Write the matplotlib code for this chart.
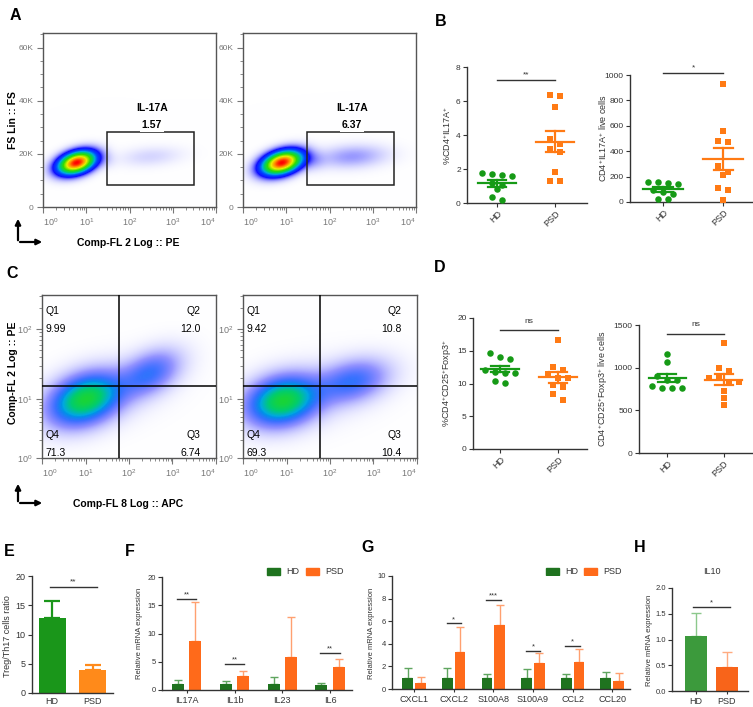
import numpy as np
import matplotlib
matplotlib.use("Agg")
import matplotlib.pyplot as plt
from matplotlib.colors import LinearSegmentedColormap
from matplotlib.patches import Rectangle

plt.rcParams["font.family"] = ["Liberation Sans", "DejaVu Sans"]
plt.rcParams["mathtext.fontset"] = "custom"
plt.rcParams["mathtext.rm"] = "Liberation Sans"
plt.rcParams["mathtext.it"] = "Liberation Sans:italic"
plt.rcParams["mathtext.bf"] = "Liberation Sans:bold"

W, H = 753, 707

### DATA
# A - flow populations, (x, y, sx, sy, corr, density) in plot fractions
a_hd_pops = [(0.195, 0.255, 0.062, 0.038, 0.35, 12.0),
             (0.36, 0.27, 0.04, 0.03, 0.0, 0.10),
             (0.62, 0.29, 0.11, 0.035, 0.2, 0.14)]
a_psd_pops = [(0.225, 0.255, 0.067, 0.040, 0.35, 12.0),
              (0.40, 0.27, 0.05, 0.035, 0.0, 0.3),
              (0.63, 0.29, 0.12, 0.04, 0.15, 0.40)]
a_gate_pct = ["1.57", "6.37"]

# C - quadrant flow populations
c_hd_pops = [(0.25, 0.36, 0.13, 0.10, 0.3, 1.7),
             (0.62, 0.52, 0.11, 0.09, 0.4, 0.7),
             (0.40, 0.40, 0.21, 0.13, 0.4, 0.08)]
c_psd_pops = [(0.23, 0.35, 0.13, 0.095, 0.2, 1.7),
              (0.63, 0.47, 0.13, 0.085, 0.3, 0.7),
              (0.42, 0.40, 0.22, 0.13, 0.3, 0.08)]
c_quads_hd = ["9.99", "12.0", "6.74", "71.3"]   # Q1, Q2, Q3, Q4
c_quads_psd = ["9.42", "10.8", "10.4", "69.3"]

# B
b_pct_hd = [1.56, 1.76, 1.72, 1.66, 1.2, 1.08, 0.8, 0.35, 0.2]
b_pct_psd = [6.35, 6.3, 5.65, 3.75, 3.45, 3.15, 3.0, 1.85, 1.3, 1.3]
b_cnt_hd = [150, 158, 158, 145, 97, 66, 76, 26, 26]
b_cnt_psd = [926, 561, 482, 471, 280, 216, 240, 110, 97, 13]

# D
d_pct_hd = [14.6, 14.0, 13.8, 11.6, 11.6, 11.8, 12.0, 10.4, 10.1]
d_pct_psd = [16.7, 12.5, 12.1, 11.4, 10.8, 10.8, 9.7, 9.5, 8.4, 7.5]
d_cnt_hd = [1160, 1065, 900, 850, 850, 757, 790, 757, 765]
d_cnt_psd = [1294, 1000, 960, 874, 874, 835, 835, 725, 647, 557]

# E
groups = ["HD", "PSD"]
e_ratio = [12.9, 4.0]
e_err = [2.9, 0.75]

# F
f_genes = ["IL17A", "IL1b", "IL23", "IL6"]
f_hd = [1.0, 1.0, 1.0, 0.9]
f_hd_err = [0.8, 0.65, 1.35, 0.3]
f_psd = [8.7, 2.5, 5.9, 4.1]
f_psd_err = [6.9, 0.9, 7.1, 1.35]
f_sig = [(0, "**", 16.1), (1, "**", 4.55), (3, "**", 6.6)]

# G
g_genes = ["CXCL1", "CXCL2", "S100A8", "S100A9", "CCL2", "CCL20"]
g_hd = [1.0, 1.0, 1.0, 1.0, 1.0, 1.0]
g_hd_err = [0.9, 0.83, 0.3, 0.74, 0.3, 0.5]
g_psd = [0.5, 3.25, 5.7, 2.3, 2.35, 0.7]
g_psd_err = [0.53, 2.25, 1.75, 0.9, 1.2, 0.7]
g_sig = [(1, "*", 5.8), (2, "***", 7.85), (3, "*", 3.35), (4, "*", 3.82)]

# H
h_il10 = [1.07, 0.46]
h_err = [0.45, 0.30]

GREEN = "#169a16"
ORANGE = "#ff7a14"
GRAY = "#333333"

flow_cmap = LinearSegmentedColormap.from_list("flow", [
    (0.0, "#3c3cff"), (0.08, "#1010ff"), (0.16, "#0048ff"), (0.24, "#00a8e0"),
    (0.32, "#00cc70"), (0.46, "#30dc00"), (0.66, "#e8f000"), (0.82, "#ff9000"),
    (1.0, "#ff0000")])

fig = plt.figure(figsize=(W / 100, H / 100), dpi=100)
ov = fig.add_axes([0, 0, 1, 1])
ov.set_xlim(0, W)
ov.set_ylim(H, 0)
ov.axis("off")


def ax_px(x0, y0, x1, y1):
    return fig.add_axes([x0 / W, 1 - y1 / H, (x1 - x0) / W, (y1 - y0) / H])


def txt(x, y, s, **kw):
    kw.setdefault("ha", "center")
    kw.setdefault("va", "center")
    ov.text(x, y, s, **kw)


### FLOW PLOTS
def flow(ax, pops, cmax, nx, ny):
    xs = (np.arange(nx) + 0.5) / nx
    ys = (np.arange(ny) + 0.5) / ny
    X, Y = np.meshgrid(xs, ys)
    dens = np.zeros_like(X)
    for cx, cy, sx, sy, r, a in pops:
        u = (X - cx) / sx
        v = (Y - cy) / sy
        dens += a * np.exp(-0.5 * (u * u - 2 * r * u * v + v * v) / (1 - r * r))
    rgba = flow_cmap(np.clip(dens / cmax, 0, 1))
    # sparse events fade into the white background
    mix = np.clip(dens, 0, 1)[..., None] ** 0.8
    rgba[..., :3] = rgba[..., :3] * mix + (1 - mix)
    ax.imshow(rgba, extent=[0, 1, 0, 1], origin="lower", interpolation="bilinear",
              aspect="auto", zorder=1)
    ax.set_xlim(0, 1)
    ax.set_ylim(0, 1)
    for s in ax.spines.values():
        s.set_color("#555555")
        s.set_linewidth(1)
    ax.tick_params(which="both", direction="out", colors="#777777", labelsize=6)
    ax.tick_params(which="major", length=4, width=0.8, pad=3)
    ax.tick_params(which="minor", length=2, width=0.6)
    ax.set_xticks([0, 0.25, 0.5, 0.75, 1.0])
    ax.set_xticks([(d + np.log10(k)) / 4 for d in range(4) for k in range(2, 10)], minor=True)
    ax.set_xticklabels(["10$^{%d}$" % i for i in range(5)], fontsize=6.5)
    lb = ax.get_xticklabels()
    lb[0].set_ha("left")
    lb[-1].set_ha("right")


fs_y = [0, 20000, 40000, 60000]
for i, (pops, x0) in enumerate([(a_hd_pops, 43), (a_psd_pops, 243)]):
    ax = ax_px(x0, 33, x0 + 173, 207)
    flow(ax, pops, 12.0, 173, 174)
    ax.set_yticks(np.array(fs_y) / 65500)
    ax.set_yticklabels(["0", "20K", "40K", "60K"])
    ax.set_yticks(np.arange(0, 65001, 5000) / 65500, minor=True)
    ax.add_patch(Rectangle((0.372, 0.126), 0.503, 0.307, fill=False, ec="#222222", lw=1.1, zorder=3))
    ax.text(0.63, 0.569, "IL-17A", ha="center", va="center", fontsize=7.5, fontweight="bold", zorder=4)
    ax.text(0.63, 0.471, a_gate_pct[i], ha="center", va="center", fontsize=7.5, fontweight="bold",
            zorder=4, bbox=dict(fc="white", ec="none", pad=1.2))

c_ymaj = [0, 0.362, 0.79]
c_dec = [0.362, 0.428, 0.428]
for i, (pops, quads, x0) in enumerate([(c_hd_pops, c_quads_hd, 42), (c_psd_pops, c_quads_psd, 243)]):
    ax = ax_px(x0, 295, x0 + 174, 458)
    flow(ax, pops, 4.5, 174, 163)
    ax.set_yticks(c_ymaj)
    ax.set_yticklabels(["10$^{%d}$" % k for k in range(3)], fontsize=6.5)
    ax.set_yticks([p + np.log10(k) * d for p, d in zip(c_ymaj, c_dec) for k in range(2, 10)
                   if p + np.log10(k) * d < 1], minor=True)
    ax.axvline(0.443, color="black", lw=1.1, zorder=3)
    ax.axhline(0.442, color="black", lw=1.1, zorder=3)
    kw = dict(fontsize=7.5, zorder=4, va="center")
    ax.text(0.02, 0.90, "Q1", ha="left", **kw)
    ax.text(0.02, 0.79, quads[0], ha="left", **kw)
    ax.text(0.91, 0.90, "Q2", ha="right", **kw)
    ax.text(0.91, 0.79, quads[1], ha="right", **kw)
    ax.text(0.91, 0.14, "Q3", ha="right", **kw)
    ax.text(0.91, 0.03, quads[2], ha="right", **kw)
    ax.text(0.02, 0.14, "Q4", ha="left", **kw)
    ax.text(0.02, 0.03, quads[3], ha="left", **kw)

txt(13, 120, "FS Lin :: FS", rotation=90, fontsize=7.5, fontweight="bold")
txt(128, 243, "Comp-FL 2 Log :: PE", fontsize=7.5, fontweight="bold")
txt(13, 373, "Comp-FL 2 Log :: PE", rotation=90, fontsize=7.5, fontweight="bold")
txt(128, 504, "Comp-FL 8 Log :: APC", fontsize=7.5, fontweight="bold")
for cy, ty in [(242, 216), (503, 481)]:
    ov.annotate("", xy=(18, ty), xytext=(18, cy + 1),
                arrowprops=dict(arrowstyle="-|>", lw=1.6, color="black", mutation_scale=8))
    ov.annotate("", xy=(45, cy), xytext=(17.2, cy),
                arrowprops=dict(arrowstyle="-|>", lw=1.6, color="black", mutation_scale=8))


### DOT PLOTS (B, D)
def style(ax, fs):
    for s in ["top", "right"]:
        ax.spines[s].set_visible(False)
    for s in ["left", "bottom"]:
        ax.spines[s].set_color(GRAY)
        ax.spines[s].set_linewidth(1)
    ax.tick_params(direction="out", length=3, width=0.8, colors=GRAY, labelsize=fs, pad=1.5)


def swarm(vals, ppu_y, ppu_x, gap=10.0, row=6.0):
    vals = np.asarray(vals, float)
    offs = np.zeros(len(vals))
    rows = []
    for i in np.argsort(-vals):
        if rows and abs(vals[rows[-1][0]] - vals[i]) * ppu_y < row:
            rows[-1].append(i)
        else:
            rows.append([i])
    for r in rows:
        for k, i in enumerate(r):
            offs[i] = (k - (len(r) - 1) / 2) * gap / ppu_x
    return offs


def sig(ax, x0, x1, y, s, dy, fs=6):
    ax.plot([x0, x1], [y, y], color=GRAY, lw=1, clip_on=False)
    ax.text((x0 + x1) / 2, y + dy, s, ha="center", va="center", fontsize=fs, color=GRAY, clip_on=False)


def dot_panel(box, xlim, ylim, yticks, hd, psd, ylabel, lab_x, sig_y, sig_txt, sig_dy):
    x0, y0, x1, y1 = box
    ax = ax_px(x0, y0, x1, y1)
    ax.set_xlim(*xlim)
    ax.set_ylim(*ylim)
    ppu_x = (x1 - x0) / (xlim[1] - xlim[0])
    ppu_y = (y1 - y0) / (ylim[1] - ylim[0])
    for pos, vals, mk, sz in [(0, hd, "o", 22), (1, psd, "s", 16)]:
        col = GREEN if pos == 0 else ORANGE
        offs = swarm(vals, ppu_y, ppu_x)
        ax.scatter(pos + offs, vals, s=sz, marker=mk, color=col, linewidths=0, zorder=3, clip_on=False)
        m = np.mean(vals)
        e = np.std(vals, ddof=1) / np.sqrt(len(vals))
        ax.plot([pos - 0.33, pos + 0.33], [m, m], color=col, lw=1.6, zorder=4)
        ax.plot([pos, pos], [m - e, m + e], color=col, lw=1.6, zorder=4)
        for yy in (m - e, m + e):
            ax.plot([pos - 0.16, pos + 0.16], [yy, yy], color=col, lw=1.6, zorder=4)
    style(ax, 6)
    ax.set_yticks(yticks)
    ax.set_xticks([0, 1])
    ax.set_xticklabels(groups, rotation=45, ha="right", rotation_mode="anchor", fontsize=6.5)
    sig(ax, 0, 1, sig_y, sig_txt, sig_dy)
    txt(lab_x, (y0 + y1) / 2, ylabel, rotation=90, fontsize=6.5, color=GRAY)
    return ax


dot_panel((467, 67, 587, 203), (-0.52, 1.55), (0, 8), [0, 2, 4, 6, 8], b_pct_hd, b_pct_psd,
          "%CD4$^{+}$IL17A$^{+}$", 447, 7.22, "**", 0.3)
dot_panel((630, 75, 752, 202), (-0.55, 1.48), (0, 1000), [0, 200, 400, 600, 800, 1000], b_cnt_hd, b_cnt_psd,
          "CD4$^{+}$IL17A$^{+}$ live cells", 603, 1015, "*", 40)
dot_panel((473, 318, 587, 449), (-0.47, 1.5), (0, 20), [0, 5, 10, 15, 20], d_pct_hd, d_pct_psd,
          "%CD4$^{+}$CD25$^{+}$Foxp3$^{+}$", 447, 18.1, "ns", 1.4)
dot_panel((639, 325, 752, 453), (-0.5, 1.5), (0, 1500), [0, 500, 1000, 1500], d_cnt_hd, d_cnt_psd,
          "CD4$^{+}$CD25$^{+}$Foxp3$^{+}$ live cells", 603, 1400, "ns", 100)

### E
ax = ax_px(32, 576, 113, 693)
ax.set_xlim(-0.49, 1.49)
ax.set_ylim(0, 20)
ax.bar([0, 1], e_ratio, width=0.66, color=["#1a961a", "#ff8a1a"], zorder=2)
for i, c in enumerate(["#1a961a", "#ff8a1a"]):
    ax.errorbar(i, e_ratio[i], yerr=[[0], [e_err[i]]], fmt="none", ecolor=c, elinewidth=1.6,
                capsize=6, capthick=1.6, zorder=1)
style(ax, 6.5)
ax.tick_params(axis="x", length=0, pad=3)
ax.set_yticks([0, 5, 10, 15, 20])
ax.set_xticks([0, 1])
ax.set_xticklabels(groups)
sig(ax, -0.06, 1.1, 18.06, "**", 0.9)
txt(8, 636, "Treg/Th17 cells ratio", rotation=90, fontsize=6.5, color=GRAY)


### F, G
def gene_panel(box, xlim, ylim, yticks, genes, hd, hd_err, psd, psd_err, sigs, off, width, lab_x, sig_dy):
    x0, y0, x1, y1 = box
    ax = ax_px(x0, y0, x1, y1)
    ax.set_xlim(*xlim)
    ax.set_ylim(*ylim)
    x = np.arange(len(genes))
    z = np.zeros(len(genes))
    ax.bar(x - off, hd, width, color="#1f731f", zorder=2)
    ax.bar(x + off, psd, width, color="#ff6a1a", zorder=2)
    ax.errorbar(x - off, hd, yerr=[z, hd_err], fmt="none", ecolor="#5fa55f", elinewidth=1,
                capsize=3, capthick=1, zorder=1)
    ax.errorbar(x + off, psd, yerr=[z, psd_err], fmt="none", ecolor="#ffa070", elinewidth=1,
                capsize=3, capthick=1, zorder=1)
    style(ax, 5.5)
    ax.tick_params(axis="x", length=2.5, labelsize=6.5, pad=2)
    ax.set_yticks(yticks)
    ax.set_xticks(x)
    ax.set_xticklabels(genes)
    for i, s, y in sigs:
        sig(ax, i - off - 0.02, i + off + 0.02, y, s, sig_dy, fs=5.5)
    txt(lab_x, 633, "Relative mRNA expression", rotation=90, fontsize=5.5, color=GRAY)


gene_panel((162, 577, 352, 690), (-0.52, 3.46), (0, 20), [0, 5, 10, 15, 20], f_genes,
           f_hd, f_hd_err, f_psd, f_psd_err, f_sig, 0.18, 0.25, 140, 0.7)
gene_panel((392, 576, 630, 689), (-0.56, 5.45), (0, 10), [0, 2, 4, 6, 8, 10], g_genes,
           g_hd, g_hd_err, g_psd, g_psd_err, g_sig, 0.16, 0.27, 372, 0.35)

for hx, px in [(267, 306), (546, 584)]:
    ov.add_patch(Rectangle((hx, 568), 13, 7, color="#1f731f"))
    ov.add_patch(Rectangle((px, 568), 13, 7, color="#ff6a1a"))
    txt(hx + 19, 571.5, "HD", ha="left", fontsize=6.5, color=GRAY)
    txt(px + 19, 571.5, "PSD", ha="left", fontsize=6.5, color=GRAY)

### H
ax = ax_px(672, 588, 748, 691)
ax.set_xlim(-0.77, 1.68)
ax.set_ylim(0, 2)
hcols = ["#3c9a3c", "#f8641a"]
ax.bar([0, 1], h_il10, width=0.72, color=hcols, zorder=2)
for i, c in enumerate(["#8cc88c", "#ffab80"]):
    ax.errorbar(i, h_il10[i], yerr=[[0], [h_err[i]]], fmt="none", ecolor=c, elinewidth=1,
                capsize=3.5, capthick=1, zorder=1)
style(ax, 5.5)
ax.tick_params(axis="x", length=2.5, labelsize=6.5, pad=2)
ax.set_yticks([0, 0.5, 1.0, 1.5, 2.0])
ax.set_yticklabels(["0.0", "0.5", "1.0", "1.5", "2.0"])
ax.set_xticks([0, 1])
ax.set_xticklabels(groups)
sig(ax, -0.1, 1.1, 1.64, "*", 0.07, fs=5.5)
txt(650, 640, "Relative mRNA expression", rotation=90, fontsize=5.5, color=GRAY)
txt(712, 572, "IL10", fontsize=6.5, color=GRAY)

### PANEL LETTERS
for s, x, y in [("A", 15, 15), ("B", 441, 21), ("C", 12, 273), ("D", 440, 267),
                ("E", 9, 551), ("F", 130, 551), ("G", 368, 548), ("H", 640, 548)]:
    txt(x, y, s, fontsize=11.5, fontweight="bold")

fig.savefig("out.png", dpi=100)
